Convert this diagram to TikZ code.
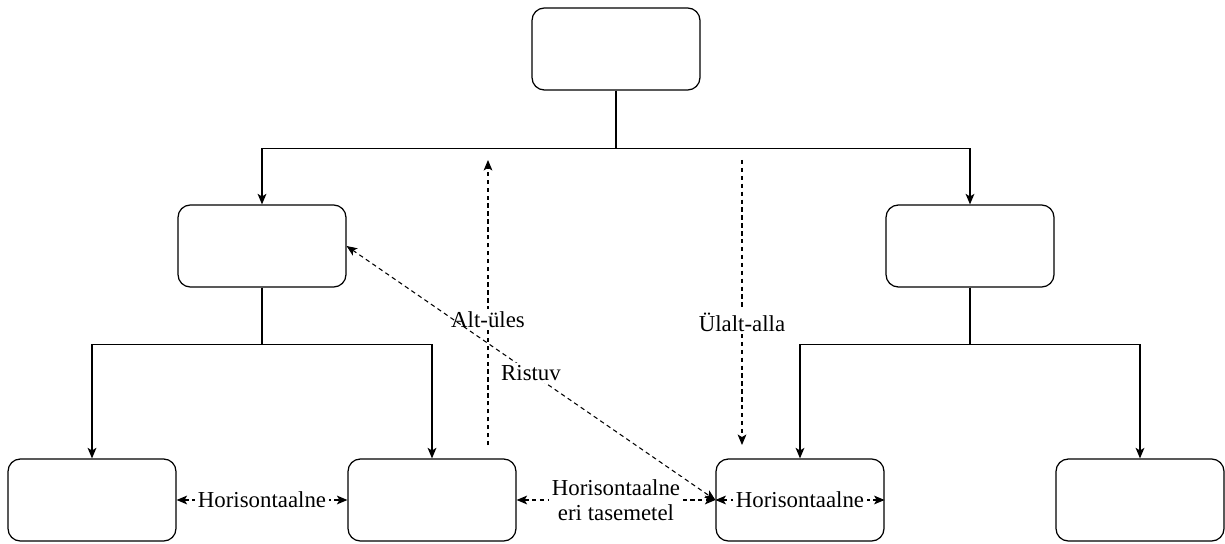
\documentclass[tikz,border=0pt]{standalone}
\usepackage{fontspec}
\setmainfont{Liberation Serif}
\usetikzlibrary{arrows.meta,positioning}

\begin{document}
\begin{tikzpicture}[x=0.02cm,y=-0.02cm,>={Stealth[length=6pt,width=5pt,inset=1.5pt]},
        line width=0.7pt,
        box/.style={draw,rounded corners=7pt,minimum width=3.36cm,minimum height=1.64cm},
        link/.style={dash pattern=on 2.5pt off 2pt,line width=0.6pt},
        link label/.style={fill=white,inner sep=1.5pt,align=center,font=\fontsize{13}{14}\selectfont}]
    \useasboundingbox (0,0) rectangle (1225,544);

    \node[box] (root) at (616,49) {};
    \node[box] (left) at (262,246) {};
    \node[box] (right) at (970,246) {};
    \node[box] (ll) at (92,500) {};
    \node[box] (lr) at (432,500) {};
    \node[box] (rl) at (800,500) {};
    \node[box] (rr) at (1140,500) {};

    % tree
    \draw[->] (root.south) -- ++(0,58) -| (left.north);
    \draw[->] (root.south) -- ++(0,58) -| (right.north);
    \draw[->] (left.south) -- ++(0,57) -| (ll.north);
    \draw[->] (left.south) -- ++(0,57) -| (lr.north);
    \draw[->] (right.south) -- ++(0,57) -| (rl.north);
    \draw[->] (right.south) -- ++(0,57) -| (rr.north);

    % free ends of the vertical links
    \coordinate (upstart) at (488,445);
    \coordinate (upend) at (488,160);
    \coordinate (downstart) at (742,160);
    \coordinate (downend) at (742,445);

    \draw[link,->] (upstart) -- node[link label,pos=0.44] {Alt-üles} (upend);
    \draw[link,->] (downstart) -- node[link label,pos=0.57] {Ülalt-alla} (downend);
    \draw[link,<->] (left.east) -- node[link label] {Ristuv} (rl.west);
    \draw[link,<->] (ll.east) -- node[link label] {Horisontaalne} (lr.west);
    \draw[link,<->] (lr.east) -- node[link label] {Horisontaalne\\eri tasemetel} (rl.west);
    \draw[link,<->] (rl.west) -- node[link label] {Horisontaalne} (rl.east);
\end{tikzpicture}
\end{document}
